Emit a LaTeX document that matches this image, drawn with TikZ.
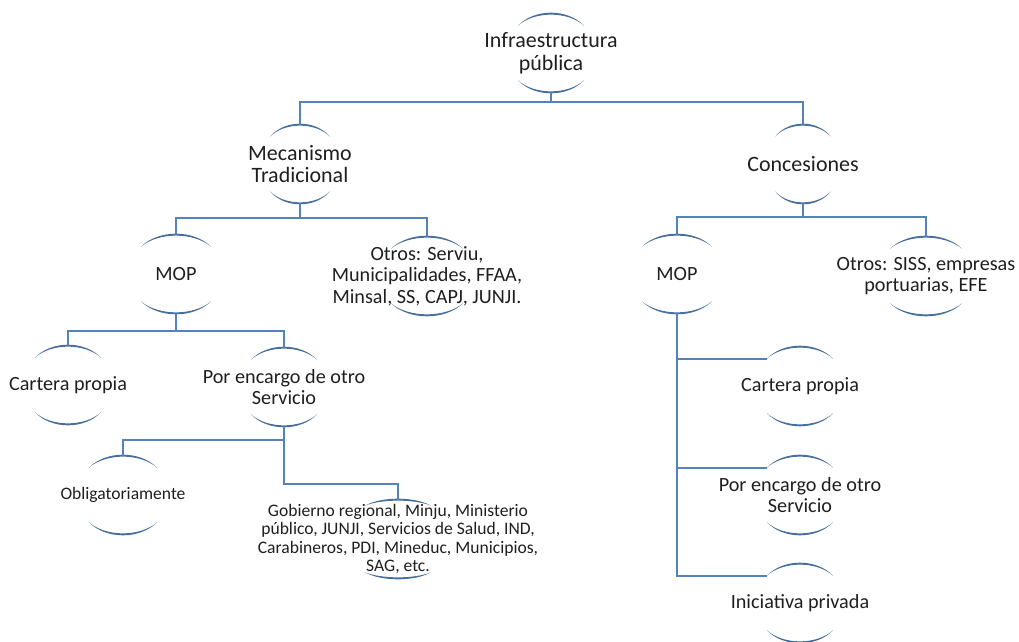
\documentclass[tikz,border=0pt]{standalone}
\usepackage{fontspec}
\setmainfont{Carlito}
\usepackage{xcolor}
\usetikzlibrary{calc}

\definecolor{arcblue}{RGB}{84,130,186}
\definecolor{arcdark}{RGB}{72,110,158}

% top and bottom arc of a node: [arc height]{node}{half width}
\newcommand{\arcs}[3][12]{%
  \fill[arcline] ($(#2.north)+(-#3,-#1)$) .. controls ($(#2.north)+(-#3*0.5,#1/3+1.3)$) and ($(#2.north)+(#3*0.5,#1/3+1.3)$) .. ($(#2.north)+(#3,-#1)$)
    .. controls ($(#2.north)+(#3*0.5,#1/3-1.3)$) and ($(#2.north)+(-#3*0.5,#1/3-1.3)$) .. cycle;
  \fill[arcline] ($(#2.south)+(-#3,#1)$) .. controls ($(#2.south)+(-#3*0.5,-#1/3-1.3)$) and ($(#2.south)+(#3*0.5,-#1/3-1.3)$) .. ($(#2.south)+(#3,#1)$)
    .. controls ($(#2.south)+(#3*0.5,-#1/3+1.3)$) and ($(#2.south)+(-#3*0.5,-#1/3+1.3)$) .. cycle;
}

\begin{document}
\begin{tikzpicture}[x=0.02cm,y=0.02cm,
    arcline/.style={fill=arcdark},
    conn/.style={draw=arcblue,line width=1pt},
    box/.style={inner sep=0pt,minimum height=1.56cm,align=center,text=black!88},
    lvlone/.style={box,font=\fontsize{12.5}{13}\selectfont},
    lvltwo/.style={box,font=\fontsize{11.5}{12.2}\selectfont},
    lvlthree/.style={box,font=\fontsize{10}{10.6}\selectfont}]
  \useasboundingbox (0,0) rectangle (1019,-642);

  \node[lvlone] (root) at (551,-53) {Infraestructura\\pública};
  \node[lvlone] (mec) at (300,-164) {Mecanismo\\Tradicional};
  \node[lvlone] (con) at (803,-164) {Concesiones};

  \node[lvltwo] (mopL) at (176,-274) {MOP};
  \node[lvltwo] (otrL) at (427,-276) {Otros: Serviu,\\Municipalidades, FFAA,\\Minsal, SS, CAPJ, JUNJI.};
  \node[lvltwo] (mopR) at (677,-274) {MOP};
  \node[lvltwo] (otrR) at (926,-276) {Otros: SISS, empresas\\portuarias, EFE};

  \node[lvltwo] (carL) at (68,-385) {Cartera propia};
  \node[lvltwo] (porL) at (284,-387) {Por encargo de otro\\Servicio};
  \node[lvlthree] (obl) at (123,-495) {Obligatoriamente};
  \node[lvlthree] (gob) at (398,-539) {Gobierno regional, Minju, Ministerio\\público, JUNJI, Servicios de Salud, IND,\\Carabineros, PDI, Mineduc, Municipios,\\SAG, etc.};

  \node[lvltwo] (carR) at (800,-386) {Cartera propia};
  \node[lvltwo] (porR) at (800,-495) {Por encargo de otro\\Servicio};
  \node[lvltwo] (iniR) at (800,-603) {Iniciativa privada};

  \arcs{root}{33}
  \arcs{mec}{30}
  \arcs{con}{28}
  \arcs{mopL}{35}
  \arcs{otrL}{36}
  \arcs{mopR}{35}
  \arcs{otrR}{36}
  \arcs{carL}{33}
  \arcs{porL}{33}
  \arcs{obl}{34}
  \arcs[6]{gob}{33}
  \arcs{carR}{33}
  \arcs{porR}{33}
  \arcs{iniR}{33}

  \draw[conn] (root.south) -- ++(0,-10) -| (mec.north);
  \draw[conn] (root.south) -- ++(0,-10) -| (con.north);
  \draw[conn] (mec.south) -- ++(0,-15) -| (mopL.north);
  \draw[conn] (mec.south) -- ++(0,-15) -| (otrL.north);
  \draw[conn] (con.south) -- ++(0,-14) -| (mopR.north);
  \draw[conn] (con.south) -- ++(0,-14) -| (otrR.north);
  \draw[conn] (mopL.south) -- ++(0,-18) -| (carL.north);
  \draw[conn] (mopL.south) -- ++(0,-18) -| (porL.north);
  \draw[conn] (porL.south) -- ++(0,-14) -| (obl.north);
  \draw[conn] (porL.south) |- ($(gob.north)+(0,16)$) -- (gob.north);
  \draw[conn] (mopR.south) |- ($(carR.north)+(-33,-12)$);
  \draw[conn] (mopR.south) |- ($(porR.north)+(-33,-12)$);
  \draw[conn] (mopR.south) |- ($(iniR.north)+(-33,-12)$);
\end{tikzpicture}
\end{document}
